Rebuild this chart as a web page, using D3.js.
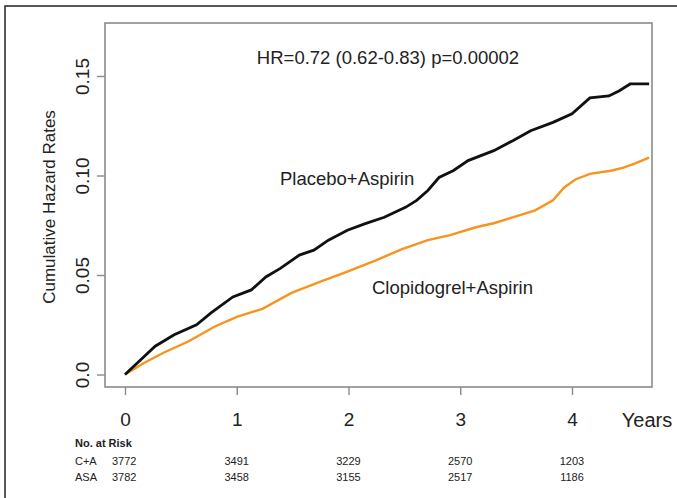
<!DOCTYPE html>
<html lang="en">
<head>
<meta charset="utf-8">
<title>Cumulative Hazard Rates</title>
<script src="https://d3js.org/d3.v7.min.js"></script>
<style>
  body { margin: 0; background: #fff; }
  text { font-family: "Liberation Sans", Arial, sans-serif; fill: #222; }
</style>
</head>
<body>
<script>
// Placebo + Aspirin (black), years vs cumulative hazard
var placeboT = [0, 0.11, 0.27, 0.44, 0.64, 0.77, 0.965, 1.13, 1.26, 1.39, 1.56, 1.69, 1.82, 1.99, 2.15, 2.32, 2.51, 2.61, 2.71, 2.81, 2.94, 3.07, 3.30, 3.47, 3.63, 3.83, 4.0, 4.16, 4.33, 4.42, 4.52, 4.69];
var placeboV = [0, 0.0058, 0.0142, 0.020, 0.025, 0.031, 0.039, 0.0425, 0.049, 0.0533, 0.060, 0.0625, 0.0675, 0.0725, 0.0758, 0.079, 0.084, 0.0875, 0.0925, 0.099, 0.1025, 0.1075, 0.1125, 0.1175, 0.1225, 0.1267, 0.131, 0.139, 0.140, 0.1425, 0.146, 0.146];

// Clopidogrel + Aspirin (orange)
var clopT = [0, 0.17, 0.34, 0.57, 0.80, 1.0, 1.23, 1.49, 1.72, 1.99, 2.25, 2.48, 2.71, 2.91, 3.14, 3.30, 3.47, 3.67, 3.83, 3.93, 4.03, 4.16, 4.36, 4.46, 4.56, 4.69];
var clopV = [0, 0.0058, 0.0108, 0.0167, 0.024, 0.029, 0.033, 0.041, 0.046, 0.0517, 0.0575, 0.063, 0.0675, 0.070, 0.074, 0.076, 0.079, 0.0825, 0.0875, 0.094, 0.098, 0.1008, 0.1025, 0.104, 0.106, 0.109];

var xTicks = [0, 1, 2, 3, 4];
var yTicks = [0, 0.05, 0.10, 0.15];
var yTickLabels = ["0.0", "0.05", "0.10", "0.15"];
var riskCA = ["3772", "3491", "3229", "2570", "1203"];
var riskASA = ["3782", "3458", "3155", "2517", "1186"];

var width = 677, height = 498;
var box = {left: 105, top: 23, right: 652, bottom: 387};

var x = d3.scaleLinear().domain([0, 4]).range([125, 572]);
var y = d3.scaleLinear().domain([0, 0.15]).range([374.5, 76]);

var svg = d3.select("body").append("svg")
    .attr("width", width)
    .attr("height", height);

// outer frame
svg.append("rect")
   .attr("x", 5).attr("y", 6)
   .attr("width", 700).attr("height", 520)
   .attr("fill", "none")
   .attr("stroke", "#222")
   .attr("stroke-width", 1.5);

// plot box
svg.append("rect")
   .attr("x", box.left).attr("y", box.top)
   .attr("width", box.right - box.left)
   .attr("height", box.bottom - box.top)
   .attr("fill", "none")
   .attr("stroke", "#8a8a8a")
   .attr("stroke-width", 1.6);

// x axis
var xAxis = svg.append("g")
   .attr("transform", "translate(0," + box.bottom + ")")
   .call(d3.axisBottom(x).tickValues(xTicks).tickSize(8).tickPadding(18).tickFormat(d3.format("d")));
xAxis.select(".domain").remove();
xAxis.selectAll("line").attr("stroke", "#8a8a8a").attr("stroke-width", 1.4);
xAxis.selectAll("text")
   .attr("font-size", 19)
   .attr("font-family", "Liberation Sans, Arial, sans-serif")
   .attr("fill", "#222");

svg.append("text")
   .attr("x", 647).attr("y", 427)
   .attr("text-anchor", "middle")
   .attr("font-size", 20)
   .text("Years");

// y axis
var yAxis = svg.append("g")
   .attr("transform", "translate(" + box.left + ",0)")
   .call(d3.axisLeft(y).tickValues(yTicks).tickSize(8)
   .tickFormat(function(d, i) { return yTickLabels[i]; }));
yAxis.select(".domain").remove();
yAxis.selectAll("line").attr("stroke", "#8a8a8a").attr("stroke-width", 1.4);
yAxis.selectAll("text")
   .attr("font-size", 19)
   .attr("font-family", "Liberation Sans, Arial, sans-serif")
   .attr("fill", "#222")
   .attr("text-anchor", "middle")
   .attr("x", 0).attr("dy", 0)
   .attr("transform", "translate(-16,0) rotate(-90)");

svg.append("text")
   .attr("transform", "translate(55,207) rotate(-90)")
   .attr("text-anchor", "middle")
   .attr("font-size", 17)
   .text("Cumulative Hazard Rates");

// curves
var line = d3.line()
   .x(function(d) { return x(d[0]); })
   .y(function(d) { return y(d[1]); });

svg.append("path")
   .datum(clopT.map(function(t, i) { return [t, clopV[i]]; }))
   .attr("d", line)
   .attr("fill", "none")
   .attr("stroke", "#f7931e")
   .attr("stroke-width", 2.4);

svg.append("path")
   .datum(placeboT.map(function(t, i) { return [t, placeboV[i]]; }))
   .attr("d", line)
   .attr("fill", "none")
   .attr("stroke", "#111")
   .attr("stroke-width", 2.8);

// annotations
svg.append("text")
   .attr("x", 388).attr("y", 64)
   .attr("text-anchor", "middle")
   .attr("font-size", 18.5)
   .text("HR=0.72 (0.62-0.83) p=0.00002");

svg.append("text")
   .attr("x", 280).attr("y", 185)
   .attr("font-size", 18.5)
   .text("Placebo+Aspirin");

svg.append("text")
   .attr("x", 372).attr("y", 294)
   .attr("font-size", 18.5)
   .text("Clopidogrel+Aspirin");

// numbers at risk
svg.append("text")
   .attr("x", 75).attr("y", 447)
   .attr("font-size", 11).attr("font-weight", "bold")
   .text("No. at Risk");
svg.append("text")
   .attr("x", 75).attr("y", 465)
   .attr("font-size", 11)
   .text("C+A");
svg.append("text")
   .attr("x", 75).attr("y", 481)
   .attr("font-size", 11)
   .text("ASA");

svg.selectAll(".riskCA")
   .data(riskCA)
   .enter().append("text")
   .attr("class", "riskCA")
   .attr("x", function(d, i) { return i === 0 ? 112 : x(xTicks[i]); })
   .attr("y", 465)
   .attr("text-anchor", function(d, i) { return i === 0 ? "start" : "middle"; })
   .attr("font-size", 11)
   .text(function(d) { return d; });

svg.selectAll(".riskASA")
   .data(riskASA)
   .enter().append("text")
   .attr("class", "riskASA")
   .attr("x", function(d, i) { return i === 0 ? 112 : x(xTicks[i]); })
   .attr("y", 481)
   .attr("text-anchor", function(d, i) { return i === 0 ? "start" : "middle"; })
   .attr("font-size", 11)
   .text(function(d) { return d; });
</script>
</body>
</html>
